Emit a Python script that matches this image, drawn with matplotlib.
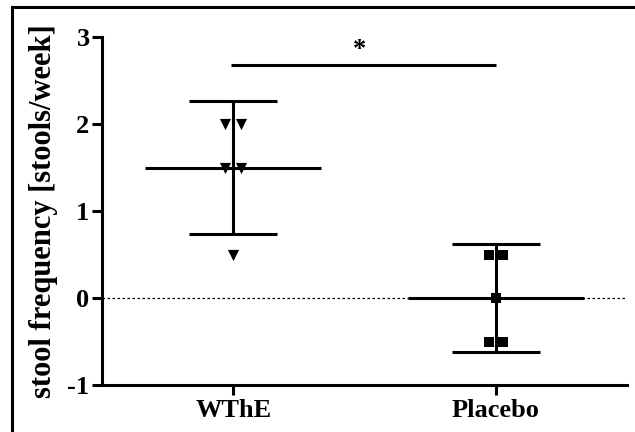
import matplotlib
matplotlib.use('Agg')
import matplotlib.pyplot as plt
from matplotlib.patches import Rectangle

groups = ['WThE', 'Placebo']
wthe_values = [2.0, 2.0, 1.5, 1.5, 0.5]
wthe_offsets = [-0.03, 0.03, -0.03, 0.03, 0.0]
placebo_values = [0.5, 0.5, 0.0, -0.5, -0.5]
placebo_offsets = [-0.026, 0.026, 0.0, -0.026, 0.026]
means = [1.5, 0.0]
sds = [0.76, 0.62]
sig_y = 2.68

plt.rcParams['font.family'] = ['Liberation Serif', 'DejaVu Serif']
plt.rcParams['font.weight'] = 'bold'
plt.rcParams['axes.unicode_minus'] = False

fig = plt.figure(figsize=(6.35, 4.32), dpi=100)
ax = fig.add_axes([102 / 635, 1 - 385 / 432, 525 / 635, 348 / 432])

lw = 2.2
ax.axhline(0, color='black', lw=0.9, ls=(0, (2, 2)), zorder=1)

# individual points
ax.scatter([0 + o for o in wthe_offsets], wthe_values, marker='v', s=65,
           color='black', zorder=3, linewidths=0)
ax.scatter([1 + o for o in placebo_offsets], placebo_values, marker='s', s=45,
           color='black', zorder=3, linewidths=0)

# mean and SD
for i in range(len(groups)):
    ax.plot([i - 0.336, i + 0.336], [means[i], means[i]], color='black', lw=lw,
            solid_capstyle='butt', zorder=2)
    ax.errorbar(i, means[i], yerr=sds[i], fmt='none', ecolor='black',
                elinewidth=lw, capsize=0, zorder=2)
    for y in (means[i] - sds[i], means[i] + sds[i]):
        ax.plot([i - 0.168, i + 0.168], [y, y], color='black', lw=lw,
                solid_capstyle='butt', zorder=2)

# significance bar
ax.plot([-0.01, 1.0], [sig_y, sig_y], color='black', lw=lw, solid_capstyle='butt')
ax.text(0.48, sig_y + 0.04, '*', ha='center', va='bottom', fontsize=19,
        fontweight='bold')

ax.set_xlim(-0.5, 1.5)
ax.set_ylim(-1, 3)
ax.set_yticks([-1, 0, 1, 2, 3])
ax.set_xticks([0, 1])
ax.set_xticklabels(groups)
ax.spines['top'].set_visible(False)
ax.spines['right'].set_visible(False)
ax.spines['left'].set_linewidth(lw)
ax.spines['bottom'].set_linewidth(lw)
ax.tick_params(axis='both', width=lw, length=7, labelsize=19)
ax.tick_params(axis='x', pad=3)
ax.tick_params(axis='y', pad=2)
ax.set_ylabel('stool frequency [stools/week]', fontsize=22, fontweight='bold',
              labelpad=7)

# frame around the figure
fig.patches.append(Rectangle((12 / 635, -0.2), 1.2, 1.2 - 7 / 432, transform=fig.transFigure,
                             fill=False, edgecolor='black', lw=2.2))

fig.savefig('out.png', dpi=100)
